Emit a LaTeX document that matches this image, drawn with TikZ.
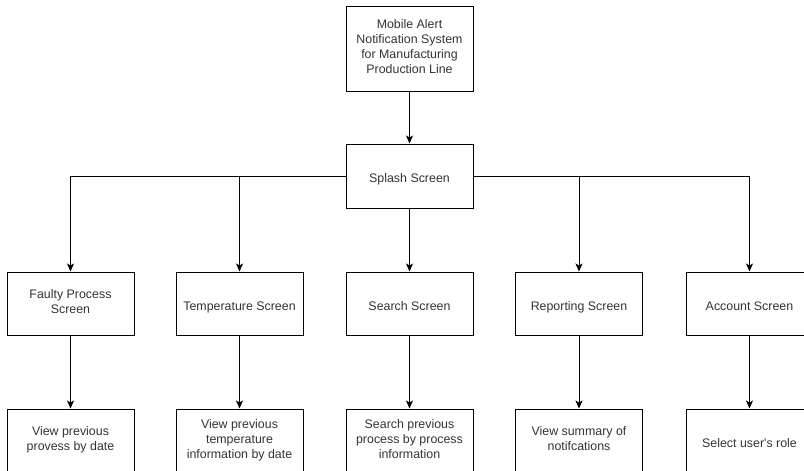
\documentclass[tikz,border=0pt]{standalone}
\usepackage{fontspec}
\setmainfont{Liberation Sans}[Ligatures=TeXOff]
\usetikzlibrary{arrows.meta}
\definecolor{txt}{HTML}{333333}
% struts that keep the label slightly below the box centre
\newcommand\topstrut{\rule{0pt}{17pt}}
\newcommand\botstrut{\rule[-4pt]{0pt}{4pt}}
\begin{document}
\begin{tikzpicture}[x=1pt,y=-1pt,
  screen/.style={draw=black, line width=1pt, fill=white, minimum width=127pt,
    minimum height=63pt, inner sep=2pt, align=center, text=txt,
    execute at begin node=\topstrut, execute at end node=\botstrut,
    font=\fontsize{12.4}{15}\selectfont},
  link/.style={line width=1pt, -{Stealth[length=8pt,width=7pt,inset=2pt]}}]
\useasboundingbox (0,0) rectangle (804,471);

% root and splash
\node[screen, minimum height=85pt] (root) at (409.5,48.5)
  {Mobile Alert\\Notification System\\for Manufacturing\\Production Line};
\node[screen, minimum height=64pt] (splash) at (409.5,176) {Splash Screen};

% screens
\node[screen] (faulty) at (70.5,303.5) {Faulty Process\\Screen};
\node[screen] (temp)   at (239.5,303.5) {Temperature Screen};
\node[screen] (search) at (409.5,303.5) {Search Screen};
\node[screen] (report) at (579,303.5) {Reporting Screen};
\node[screen] (account) at (749.5,303.5) {Account Screen};

% functions
\node[screen, minimum height=64pt] (faultyf) at (70.5,441) {View previous\\provess by date};
\node[screen, minimum height=64pt] (tempf)   at (239.5,441) {View previous\\temperature\\information by date};
\node[screen, minimum height=64pt] (searchf) at (409.5,441) {Search previous\\process by process\\information};
\node[screen, minimum height=64pt] (reportf) at (579,441) {View summary of\\notifcations};
\node[screen, minimum height=64pt] (accountf) at (749.5,441) {Select user's role};

% connectors
\draw[link] (root) -- (splash);
\draw[link] (splash.west) -| (faulty.north);
\draw[link] (splash.west) -| (temp.north);
\draw[link] (splash) -- (search);
\draw[link] (splash.east) -| (report.north);
\draw[link] (splash.east) -| (account.north);
\foreach \a/\b in {faulty/faultyf, temp/tempf, search/searchf, report/reportf, account/accountf}
  \draw[link] (\a) -- (\b);
\end{tikzpicture}
\end{document}
